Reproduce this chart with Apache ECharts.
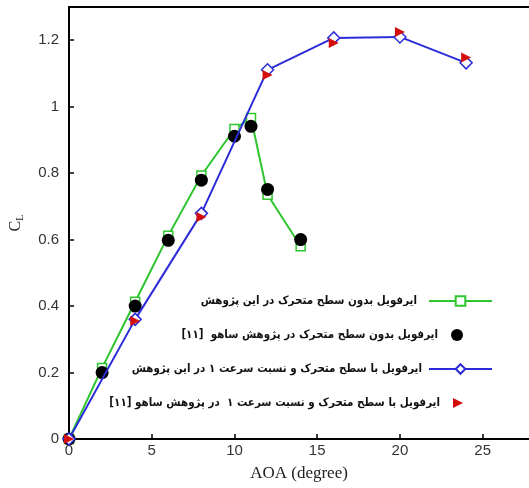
<!DOCTYPE html>
<html lang="fa">
<head>
    <meta charset="utf-8">
    <title>CL - AOA</title>
    <script src="https://cdn.jsdelivr.net/npm/echarts@6/dist/echarts.min.js"></script>
    <style>
        html, body { margin: 0; padding: 0; background: #fff; }
        #main { width: 529px; height: 488px; }
    </style>
</head>
<body>
    <div id="main"></div>
    <script type="text/javascript">
    // داده ها (از روی شکل خوانده شده)
    var aoaGreen = [0, 2, 4, 6, 8, 10, 11, 12, 14];
    var clGreen = [0, 0.214, 0.413, 0.612, 0.793, 0.933, 0.966, 0.735, 0.58];

    var aoaBlack = [0, 2, 4, 6, 8, 10, 11, 12, 14];
    var clBlack = [0, 0.2, 0.4, 0.598, 0.779, 0.911, 0.941, 0.751, 0.6];

    var aoaBlue = [0, 4, 8, 12, 16, 20, 24];
    var clBlue = [0, 0.36, 0.679, 1.111, 1.207, 1.21, 1.132];

    var aoaRed = [0, 4, 8, 12, 16, 20, 24];
    var clRed = [0, 0.355, 0.668, 1.095, 1.192, 1.225, 1.148];

    var names = [
        'ایرفویل بدون سطح متحرک در این پژوهش',
        'ایرفویل بدون سطح متحرک در پژوهش ساهو  [۱۱]',
        'ایرفویل با سطح متحرک و نسبت سرعت ۱ در این پژوهش',
        'ایرفویل با سطح متحرک و نسبت سرعت ۱  در پژوهش ساهو [۱۱]'
    ];

    function pairs(xs, ys) {
        return xs.map(function (x, i) { return [x, ys[i]]; });
    }

    var myChart = echarts.init(document.getElementById('main'));

    var labelFont = { fontFamily: 'Liberation Sans', fontSize: 15, color: '#333' };

    // legend icons sized to the 63x12 icon box
    var dotIcon = 'path://M0,0L0,0M63,12L63,12M22,6A6,6,0,1,1,34,6A6,6,0,1,1,22,6Z';
    var triIcon = 'path://M0,0L0,0M63,12L63,12M24,1L34,6L24,11Z';

    myChart.setOption({
        animation: false,
        grid: { left: 69, right: 0, top: 7, bottom: 49 },
        legend: {
            orient: 'vertical',
            right: 36,
            top: 295,
            padding: 0,
            align: 'right',
            itemWidth: 63,
            itemHeight: 12,
            itemGap: 22,
            symbolRotate: 0,
            textStyle: {
                fontFamily: ['DejaVu Sans Condensed', 'DejaVu Sans'],
                fontWeight: 'bold',
                fontSize: 11.5,
                color: '#111',
                padding: [0, 7, 0, 0]
            },
            data: [
                { name: names[0] },
                { name: names[1], icon: dotIcon, textStyle: { padding: [0, -14, 0, 0] } },
                { name: names[2], textStyle: { padding: [0, 2, 0, 0] } },
                { name: names[3], icon: triIcon, textStyle: { padding: [0, -16, 0, 0] } }
            ]
        },
        xAxis: [{
            type: 'value',
            min: 0,
            max: 27.8,
            interval: 5,
            name: 'AOA (degree)',
            nameLocation: 'middle',
            nameGap: 26,
            nameTextStyle: { fontFamily: 'Liberation Serif', fontSize: 17, color: '#222' },
            axisLine: { lineStyle: { color: '#000', width: 2 } },
            axisTick: { inside: true, length: 5, lineStyle: { color: '#000', width: 1.5 } },
            axisLabel: Object.assign({ showMaxLabel: false, margin: 4 }, labelFont),
            splitLine: { show: false }
        }, {
            type: 'value',
            position: 'top',
            min: 0,
            max: 27.8,
            axisLine: { show: true, onZero: false, lineStyle: { color: '#000', width: 2 } },
            axisTick: { show: false },
            axisLabel: { show: false },
            splitLine: { show: false }
        }],
        yAxis: {
            type: 'value',
            min: 0,
            max: 1.3,
            interval: 0.2,
            name: 'C{sub|L}',
            nameLocation: 'middle',
            nameRotate: 90,
            nameGap: 44,
            nameTextStyle: {
                fontFamily: 'Liberation Serif', fontSize: 16, color: '#222',
                rich: { sub: { fontFamily: 'Liberation Serif', fontSize: 10, color: '#222', verticalAlign: 'bottom', padding: [8, 0, 0, 0] } }
            },
            axisLine: { show: true, lineStyle: { color: '#000', width: 2 } },
            axisTick: { inside: true, length: 5, lineStyle: { color: '#000', width: 1.5 } },
            axisLabel: Object.assign({ showMaxLabel: false, margin: 10 }, labelFont),
            splitLine: { show: false }
        },
        series: [{
            name: names[0],
            type: 'line',
            data: pairs(aoaGreen, clGreen),
            symbol: 'rect',
            symbolSize: 9,
            showAllSymbol: true,
            lineStyle: { color: '#2ec52e', width: 2 },
            itemStyle: { color: '#fff', borderColor: '#2ec52e', borderWidth: 1.5 },
            z: 2
        }, {
            name: names[1],
            type: 'scatter',
            data: pairs(aoaBlack, clBlack),
            symbol: 'circle',
            symbolSize: 13,
            itemStyle: { color: '#000', opacity: 1 },
            z: 3
        }, {
            name: names[2],
            type: 'line',
            data: pairs(aoaBlue, clBlue),
            symbol: 'diamond',
            symbolSize: 12,
            showAllSymbol: true,
            lineStyle: { color: '#2b2bd8', width: 2 },
            itemStyle: { color: '#fff', borderColor: '#2b2bd8', borderWidth: 1.5 },
            z: 4
        }, {
            name: names[3],
            type: 'scatter',
            data: pairs(aoaRed, clRed),
            symbol: 'triangle',
            symbolSize: 10,
            symbolRotate: -90,
            itemStyle: { color: '#d40d0d', opacity: 1 },
            z: 5
        }]
    });
    </script>
</body>
</html>
